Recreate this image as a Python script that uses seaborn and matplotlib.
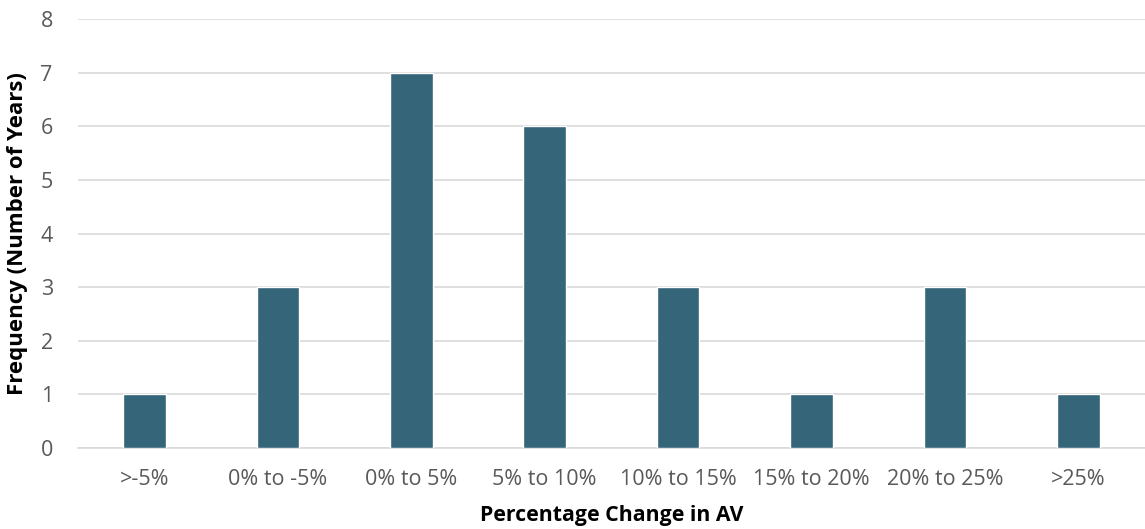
import matplotlib
matplotlib.use("Agg")
import matplotlib.pyplot as plt
import seaborn as sns
import pandas as pd

categories = [">-5%", "0% to -5%", "0% to 5%", "5% to 10%", "10% to 15%",
              "15% to 20%", "20% to 25%", ">25%"]
frequency = [1, 3, 7, 6, 3, 1, 3, 1]
yticks = [0, 1, 2, 3, 4, 5, 6, 7, 8]

sns.set_style("white")
plt.rcParams['font.family'] = ['Open Sans', 'DejaVu Sans']

df = pd.DataFrame({"cat": categories, "freq": frequency})

fig = plt.figure(figsize=(11.45, 5.29), dpi=100)
ax = fig.add_axes([0.068, 0.153, 0.932, 0.811])
sns.barplot(data=df, x="cat", y="freq", color="#346579", width=0.32,
            saturation=1, ax=ax, zorder=3)

ax.set_ylim(0, 8)
ax.set_xlim(-0.5, 7.5)
ax.set_yticks(yticks)
ax.yaxis.grid(True, color="#d9d9d9", linewidth=1.2, zorder=0)
for s in ["top", "right", "left"]:
    ax.spines[s].set_visible(False)
ax.spines["bottom"].set_color("#d9d9d9")
ax.spines["bottom"].set_linewidth(1.2)
ax.tick_params(axis="both", length=0, labelsize=15.5, colors="#595959")
ax.tick_params(axis="x", pad=15)
ax.tick_params(axis="y", pad=18)
ax.set_xlabel("Percentage Change in AV", fontsize=15.3, fontweight="bold",
              color="black", labelpad=11)
ax.set_ylabel("Frequency (Number of Years)", fontsize=16, fontweight="bold",
              color="black", labelpad=9)

fig.savefig("out.png", dpi=100)
